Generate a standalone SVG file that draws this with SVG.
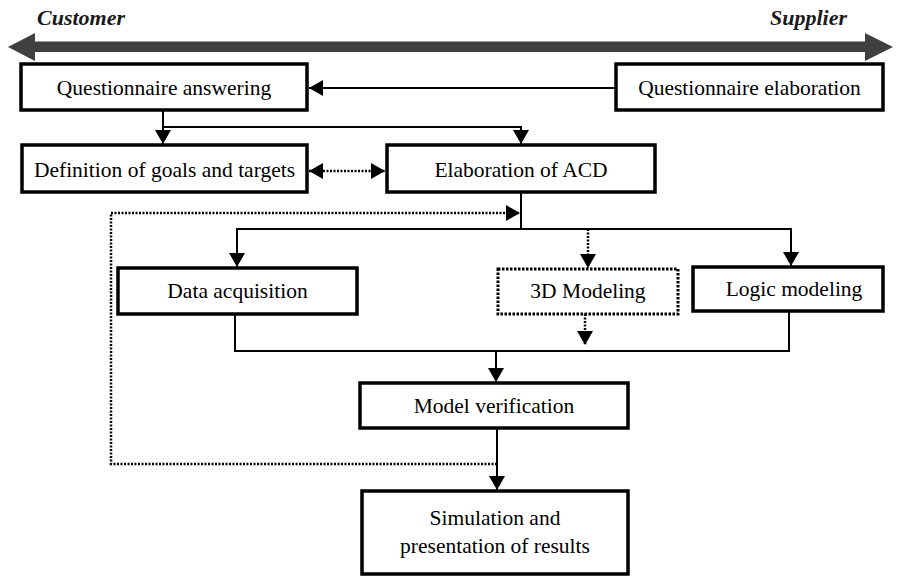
<svg xmlns="http://www.w3.org/2000/svg" width="900" height="576" viewBox="0 0 900 576">
  <defs>
    <marker id="arrow" markerUnits="userSpaceOnUse" markerWidth="16" markerHeight="16" viewBox="0 0 14 16" refX="14" refY="8" orient="auto">
      <path d="M0,0 L14,8 L0,16 z" fill="#000"/>
    </marker>
    <marker id="arrowStart" markerUnits="userSpaceOnUse" markerWidth="16" markerHeight="16" viewBox="0 0 14 16" refX="0" refY="8" orient="auto">
      <path d="M14,0 L0,8 L14,16 z" fill="#000"/>
    </marker>
  </defs>
  <style>
    .box { fill: #fff; stroke: #000; stroke-width: 3.5; }
    .box-dotted { fill: #fff; stroke: #000; stroke-width: 3; stroke-dasharray: 2.5 1.5; }
    .label { font-family: "Liberation Serif", "Times New Roman", serif; font-size: 21.5px; fill: #000; text-anchor: middle; }
    .side { font-family: "Liberation Serif", "Times New Roman", serif; font-size: 22px; font-weight: bold; font-style: italic; fill: #1a1a1a; }
    .link { fill: none; stroke: #000; stroke-width: 2; }
    .link-dotted { fill: none; stroke: #000; stroke-width: 2.5; stroke-dasharray: 2 1.5; }
  </style>

  <rect width="900" height="576" fill="#fff"/>

  <!-- Customer / Supplier axis -->
  <g id="axis">
    <polygon points="8,47 35,33 35,41.5 865,41.5 865,33 893,47 865,61 865,52 35,52 35,61" fill="#404040"/>
    <text class="side" x="37" y="25">Customer</text>
    <text class="side" x="770" y="25">Supplier</text>
  </g>

  <!-- Connectors -->
  <g id="connectors">
    <!-- questionnaire elaboration to answering -->
    <line class="link" x1="616" y1="88" x2="309" y2="88" marker-end="url(#arrow)"/>
    <!-- answering to goals and ACD -->
    <line class="link" x1="163" y1="110" x2="163" y2="144" marker-end="url(#arrow)"/>
    <polyline class="link" points="163,127 521,127 521,144" marker-end="url(#arrow)"/>
    <!-- goals <-> ACD -->
    <line class="link-dotted" x1="309" y1="171" x2="385" y2="171" marker-start="url(#arrowStart)" marker-end="url(#arrow)"/>
    <!-- ACD fan-out -->
    <polyline class="link" points="521,192 521,229 237,229 237,267" marker-end="url(#arrow)"/>
    <polyline class="link" points="521,229 791,229 791,266" marker-end="url(#arrow)"/>
    <line class="link-dotted" x1="588" y1="229" x2="588" y2="268" marker-end="url(#arrow)"/>
    <!-- fan-in to verification -->
    <line class="link-dotted" x1="585" y1="314" x2="585" y2="345" marker-end="url(#arrow)"/>
    <polyline class="link" points="235,314 235,351 789,351 789,311"/>
    <line class="link" x1="496" y1="351" x2="496" y2="382" marker-end="url(#arrow)"/>
    <!-- verification to simulation -->
    <line class="link" x1="497" y1="428" x2="497" y2="490" marker-end="url(#arrow)"/>
    <!-- feedback loop back to ACD -->
    <polyline class="link-dotted" points="497,464 111,464 111,213 520,213" marker-end="url(#arrow)"/>
  </g>

  <g id="questionnaire-answering">
    <rect class="box" x="21" y="64" width="286" height="46"/>
    <text class="label" x="164" y="95">Questionnaire answering</text>
  </g>

  <g id="questionnaire-elaboration">
    <rect class="box" x="616" y="64" width="267" height="46"/>
    <text class="label" x="749.5" y="95">Questionnaire elaboration</text>
  </g>

  <g id="goals-targets">
    <rect class="box" x="22" y="145" width="285" height="47"/>
    <text class="label" x="164.5" y="177">Definition of goals and targets</text>
  </g>

  <g id="elaboration-acd">
    <rect class="box" x="387" y="145" width="268" height="47"/>
    <text class="label" x="521" y="177">Elaboration of ACD</text>
  </g>

  <g id="data-acquisition">
    <rect class="box" x="118" y="268" width="239" height="46"/>
    <text class="label" x="237.5" y="298">Data acquisition</text>
  </g>

  <g id="modeling-3d">
    <rect class="box-dotted" x="498" y="269" width="180" height="45"/>
    <text class="label" x="588" y="298">3D Modeling</text>
  </g>

  <g id="logic-modeling">
    <rect class="box" x="693" y="267" width="190" height="44"/>
    <text class="label" x="794" y="296">Logic modeling</text>
  </g>

  <g id="model-verification">
    <rect class="box" x="360" y="383" width="268" height="45"/>
    <text class="label" x="494" y="413">Model verification</text>
  </g>

  <g id="simulation-results">
    <rect class="box" x="362" y="491" width="266" height="83"/>
    <text class="label" x="495" y="525">Simulation and</text>
    <text class="label" x="495" y="553">presentation of results</text>
  </g>
</svg>
